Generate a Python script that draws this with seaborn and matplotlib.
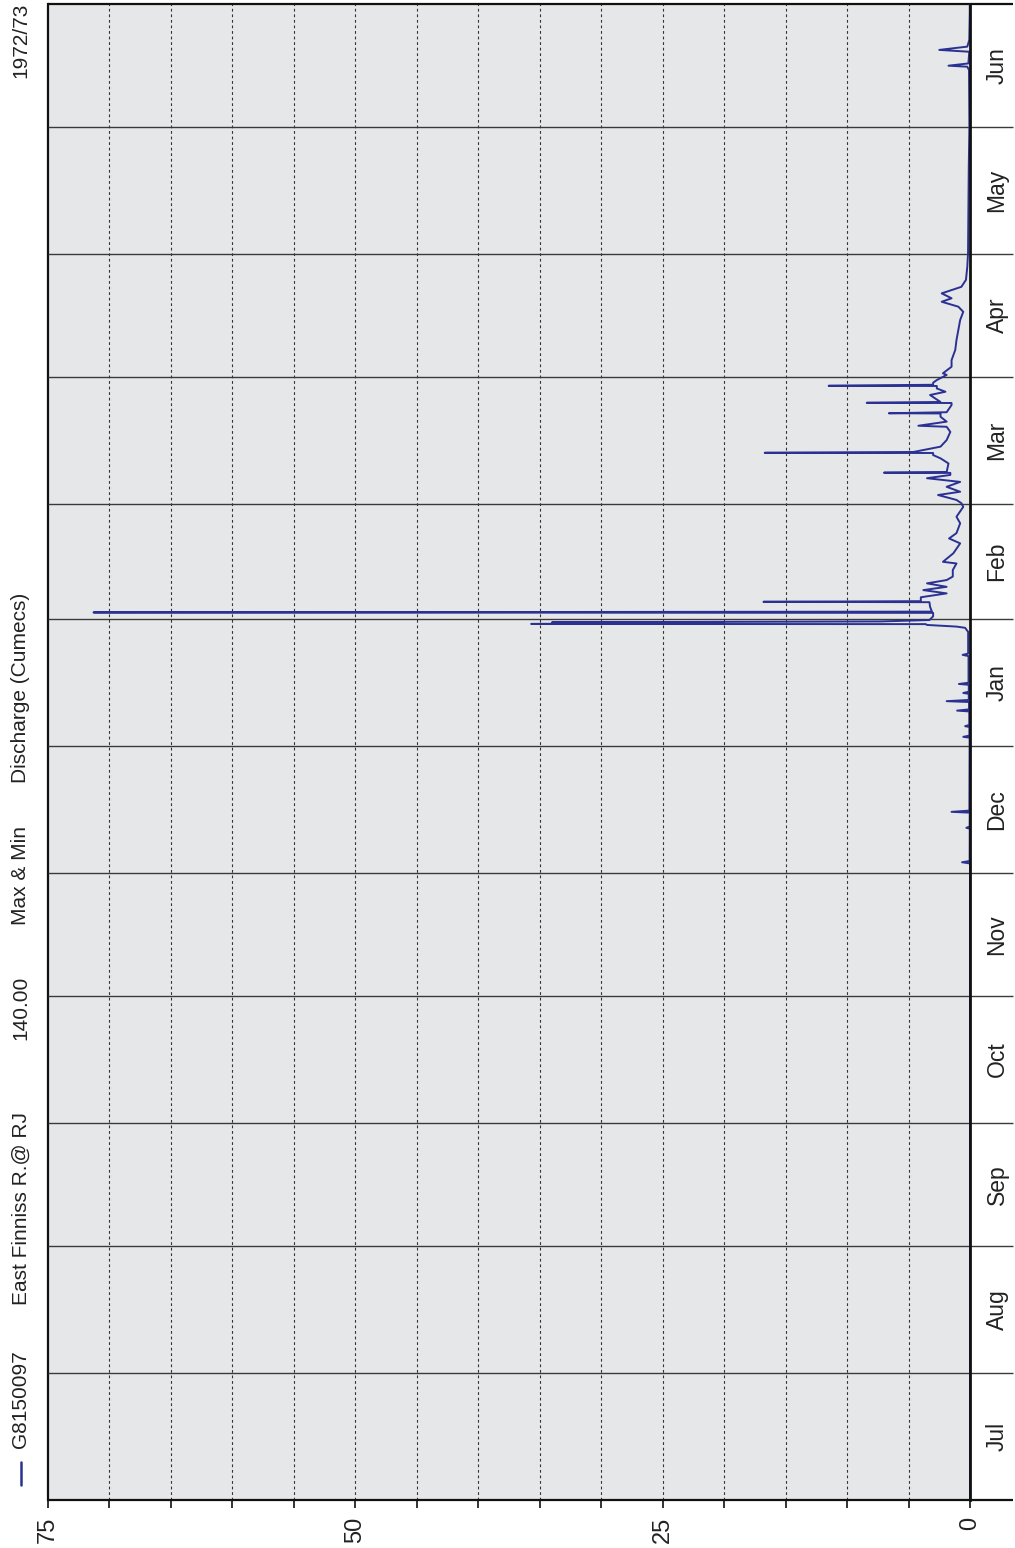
import matplotlib
matplotlib.use("Agg")
import matplotlib.pyplot as plt
from matplotlib import font_manager
import seaborn as sns
import pandas as pd

# Discharge record, East Finniss R. @ RJ, water year 1972/73.
# Time is in days counted from 1 July 1972; discharge in cumecs.
day_offsets = [
    0.0, 155.3, 155.6, 155.9, 163.8, 164.0, 164.3, 167.7, 167.9, 168.2,
    186.0, 186.2, 186.5, 188.6, 188.8, 189.1, 192.4, 192.6, 192.9,
    194.7, 194.9, 195.2, 196.7, 196.9, 197.2, 198.9, 199.1, 199.4,
    205.9, 206.2, 206.5, 211.8, 212.8, 213.1, 213.5,
    213.7, 213.75, 213.95, 214.1, 214.15, 214.35, 214.7, 215.6,
    216.45, 216.55, 216.75, 217.95, 219.05, 219.15, 219.3, 220.25,
    221.2, 222.0, 222.8, 223.65, 224.45, 225.3, 226.9, 228.5, 228.9,
    231.0, 233.4, 234.6, 235.9, 238.3, 239.9, 242.3, 243.2, 244.0,
    245.2, 246.0, 247.2, 248.4, 249.3, 250.1, 250.6, 250.65, 250.8,
    252.9, 254.15, 254.95, 255.45, 255.5, 255.7, 257.0, 258.6, 260.6,
    261.85, 262.1, 263.1, 264.3, 265.1, 265.15, 265.4, 267.15, 267.65,
    267.7, 267.9, 269.6, 270.4, 271.2, 271.8, 271.85, 272.1, 272.6,
    273.25, 274.5, 274.9, 276.5, 278.1, 280.6, 283.0, 285.5, 287.9,
    289.9, 291.15, 292.35, 293.2, 294.4, 295.2, 296.0, 297.7, 300.9,
    304.2, 325.3, 335.1, 348.9, 349.7, 349.95, 350.5, 353.35, 353.8,
    354.6, 356.2, 362.7, 365.0,
]
discharge = [
    0.0, 0.0, 0.65, 0.03, 0.02, 0.3, 0.03, 0.02, 1.5, 0.05,
    0.03, 0.55, 0.05, 0.05, 0.4, 0.06, 0.06, 1.05, 0.08,
    0.08, 1.9, 0.1, 0.1, 0.55, 0.1, 0.1, 0.9, 0.12,
    0.12, 0.6, 0.15, 0.15, 0.4, 1.1, 3.5,
    3.6, 35.7, 20.0, 20.5, 34.0, 7.3, 3.3, 3.0,
    3.0, 71.3, 3.1, 3.25, 3.3, 16.8, 4.0, 4.0,
    1.9, 3.8, 1.9, 3.5, 1.9, 1.4, 1.4, 1.1, 2.2,
    1.35, 0.8, 1.7, 1.1, 0.8, 1.1, 0.55, 0.7, 1.1,
    2.6, 0.8, 1.9, 0.8, 3.5, 1.6, 1.6, 7.0, 1.9,
    1.75, 2.4, 3.0, 3.0, 16.7, 4.6, 2.4, 1.9, 1.6,
    1.9, 4.2, 1.9, 2.4, 2.4, 6.6, 1.9, 1.5, 1.5,
    8.4, 2.4, 3.25, 2.0, 2.7, 2.7, 11.5, 3.0, 3.0,
    2.7, 1.9, 2.2, 1.5, 1.5, 1.2, 1.1, 0.95, 0.8,
    0.55, 0.95, 2.3, 1.5, 2.3, 1.5, 0.7, 0.33, 0.22,
    0.16, 0.1, 0.05, 0.08, 0.22, 1.75, 0.13, 0.06, 2.5,
    0.22, 0.06, 0.02, 0.02,
]

month_labels = ["Jul", "Aug", "Sep", "Oct", "Nov", "Dec",
                "Jan", "Feb", "Mar", "Apr", "May", "Jun"]
month_starts = [0, 31, 62, 92, 123, 153, 184, 215, 243, 274, 304, 335, 365]

discharge_ticks = list(range(0, 80, 5))
labelled_ticks = [0, 25, 50, 75]

site_code = "G8150097"
site_name = "East Finniss R.@ RJ"
site_area = "140.00"
series_kind = "Max & Min"
quantity = "Discharge (Cumecs)"
water_year = "1972/73"

LINE_BLUE = "#2B3192"
TEXT = "#222222"

sns.set_style("white")
available = {f.name for f in font_manager.fontManager.ttflist}
if "Liberation Sans Narrow" in available:
    plt.rcParams["font.family"] = ["Liberation Sans Narrow", "DejaVu Sans"]
    fs_head, fs_tick, fs_month = 18, 20, 20
else:
    plt.rcParams["font.family"] = ["Liberation Sans", "DejaVu Sans"]
    fs_head, fs_tick, fs_month = 15, 17, 16.5

W, H = 1015, 1548
fig = plt.figure(figsize=(W / 100, H / 100), dpi=100)
fig.patch.set_facecolor("white")

ax_l, ax_r, ax_t, ax_b = 48, 970, 4, 1500
ax = fig.add_axes([ax_l / W, 1 - ax_b / H, (ax_r - ax_l) / W, (ax_b - ax_t) / H])
ax.set_facecolor("#E6E7E9")

df = pd.DataFrame({"day": day_offsets, "flow": discharge})
sns.lineplot(data=df, x="flow", y="day", sort=False, estimator=None,
             orient="y", color=LINE_BLUE, linewidth=1.4, ax=ax, zorder=4)

ax.set_xlim(75, 0)
ax.set_ylim(0, 365)

# dashed discharge grid
for v in discharge_ticks:
    if 0 < v < 75:
        ax.axvline(v, color="#333333", lw=0.8, ls=(0, (2.5, 2.5)), zorder=1)

# month boundaries run across the plot and the label column on the right
ext = (1013 - ax_l) / (ax_r - ax_l)
ytr = ax.get_yaxis_transform()
for d in month_starts:
    lw = 1.6 if d in (0, 365) else 1.0
    col = "#111111" if d in (0, 365) else "#3A3A3A"
    ax.plot([0, ext], [d, d], transform=ytr, color=col, lw=lw,
            clip_on=False, zorder=3, solid_capstyle="butt")

for lab, a, b in zip(month_labels, month_starts[:-1], month_starts[1:]):
    ax.text((997 - ax_l) / (ax_r - ax_l), (a + b) / 2, lab, transform=ytr,
            rotation=90, ha="center", va="center", fontsize=fs_month,
            color=TEXT, clip_on=False)

for side in ("top", "bottom"):
    ax.spines[side].set_visible(False)
ax.spines["left"].set_color("#111111")
ax.spines["left"].set_linewidth(1.6)
ax.spines["right"].set_color("#111111")
ax.spines["right"].set_linewidth(2.0)
ax.spines["right"].set_zorder(5)

ax.set_yticks([])
ax.set_xticks(discharge_ticks)
ax.set_xticklabels([str(v) if v in labelled_ticks else "" for v in discharge_ticks],
                   rotation=90, fontsize=fs_tick, color=TEXT)
ax.tick_params(axis="x", direction="out", length=6, width=1.2,
               color="#111111", pad=6, bottom=True)
ax.set_xlabel("")
ax.set_ylabel("")

# header along the left edge
xh = 21 / W
def head(text, y_px, va="bottom"):
    fig.text(xh, 1 - y_px / H, text, rotation=90, ha="center", va=va,
             fontsize=fs_head, color=TEXT)

head(water_year, 3, va="top")
head(quantity, 783)
head(series_kind, 925)
head(site_area, 1040)
head(site_name, 1305)
head(site_code, 1448)
fig.add_artist(plt.Line2D([xh, xh], [1 - 1485 / H, 1 - 1462 / H],
                          transform=fig.transFigure, color=LINE_BLUE, lw=1.8))

fig.savefig("out.png", dpi=100, facecolor="white")
